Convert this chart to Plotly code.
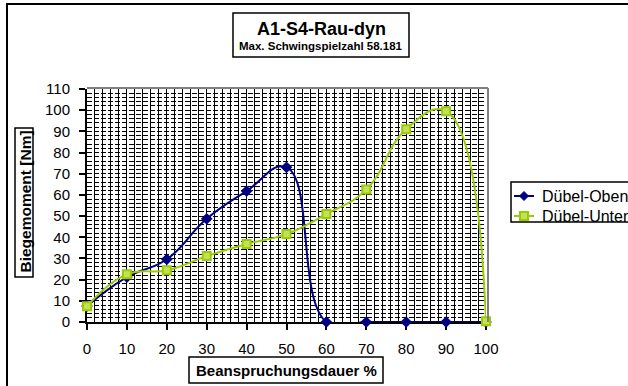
import plotly.graph_objects as go

# ---- data ----
x_pct = [0, 10, 20, 30, 40, 50, 60, 70, 80, 90, 100]
oben = [7.5, 21.2, 29.6, 48.7, 61.8, 73.0, 0, 0, 0, 0, 0]
unten = [7.4, 22.5, 24.4, 31.1, 36.8, 41.5, 51.0, 62.5, 91.0, 99.5, 0.3]
series_names = ["Dübel-Oben", "Dübel-Unten"]
series_colors = ["#000080", "#99CC00"]
title_main = "A1-S4-Rau-dyn"
title_sub = "Max. Schwingspielzahl 58.181"
x_title = "Beanspruchungsdauer %"
y_title = "Biegemoment [Nm]"

FONT = "Arial, Liberation Sans, sans-serif"

# plot area in pixels
L, R, T, B = 87, 486, 89, 322
W, H = R - L, B - T


def px(xp):
    return (xp - L) / W


def py(yp):
    return (B - yp) / H


fig = go.Figure()
fig.add_trace(go.Scatter(
    x=x_pct, y=oben, name=series_names[0], mode="lines+markers",
    line=dict(color=series_colors[0], width=2, shape="spline", smoothing=1.3),
    marker=dict(symbol="diamond", size=9, color=series_colors[0]),
    cliponaxis=False, showlegend=False,
))
fig.add_trace(go.Scatter(
    x=x_pct, y=unten, name=series_names[1], mode="lines+markers",
    line=dict(color=series_colors[1], width=2, shape="spline", smoothing=1.3),
    marker=dict(symbol="square", size=8, color="#C4E05A",
                line=dict(color=series_colors[1], width=2)),
    cliponaxis=False, showlegend=False,
))

shapes = [
    # outer chart border
    dict(type="rect", xref="paper", yref="paper", x0=px(7), x1=2, y0=-1, y1=py(4),
         line=dict(color="black", width=2), fillcolor="rgba(0,0,0,0)", layer="above"),
    # plot-area border (top & right, grey)
    dict(type="line", xref="paper", yref="paper", x0=0, x1=px(488), y0=py(88), y1=py(88),
         line=dict(color="#808080", width=2)),
    dict(type="line", xref="paper", yref="paper", x0=px(488), x1=px(488), y0=0, y1=py(88),
         line=dict(color="#808080", width=2)),
    # title box
    dict(type="rect", xref="paper", yref="paper", x0=px(233), x1=px(409), y0=py(57), y1=py(13),
         line=dict(color="black", width=1.5), fillcolor="white"),
    # y title box
    dict(type="rect", xref="paper", yref="paper", x0=px(15), x1=px(33), y0=py(277), y1=py(128),
         line=dict(color="black", width=1.5), fillcolor="white"),
    # x title box
    dict(type="rect", xref="paper", yref="paper", x0=px(189), x1=px(383), y0=py(383), y1=py(357),
         line=dict(color="black", width=1.5), fillcolor="white"),
    # legend box
    dict(type="rect", xref="paper", yref="paper", x0=px(511), x1=px(660), y0=py(222), y1=py(182),
         line=dict(color="black", width=1.5), fillcolor="white", layer="below"),
]

annotations = [
    dict(text="<b>" + title_main + "</b>", xref="paper", yref="paper",
         x=px(321), y=py(29), xanchor="center", yanchor="middle", showarrow=False,
         font=dict(family=FONT, size=18, color="black")),
    dict(text="<b>" + title_sub + "</b>", xref="paper", yref="paper",
         x=px(321), y=py(46), xanchor="center", yanchor="middle", showarrow=False,
         font=dict(family=FONT, size=11.5, color="black")),
    dict(text="<b>" + y_title + "</b>", xref="paper", yref="paper", textangle=-90,
         x=px(24.5), y=py(202), xanchor="center", yanchor="middle", showarrow=False,
         font=dict(family=FONT, size=15.5, color="black")),
    dict(text="<b>" + x_title + "</b>", xref="paper", yref="paper",
         x=px(286), y=py(370), xanchor="center", yanchor="middle", showarrow=False,
         font=dict(family=FONT, size=15, color="black")),
]

# legend drawn by hand (box cut by the chart edge as in the original)
leg_rows = [196, 216]
for i, (name, col) in enumerate(zip(series_names, series_colors)):
    yy = py(leg_rows[i])
    shapes.append(dict(type="line", xref="paper", yref="paper", x0=px(514), x1=px(534),
                       y0=yy, y1=yy, line=dict(color=col, width=2)))
    annotations.append(dict(text=name, xref="paper", yref="paper", x=px(540), y=yy,
                            xanchor="left", yanchor="middle", showarrow=False,
                            font=dict(family=FONT, size=16, color="black")))
# legend marker symbols
cx, cy = 524, leg_rows[0]
shapes.append(dict(type="path", xref="paper", yref="paper",
                   path=f"M {px(cx-4.5)} {py(cy)} L {px(cx)} {py(cy-4.5)} L {px(cx+4.5)} {py(cy)} L {px(cx)} {py(cy+4.5)} Z",
                   line=dict(color=series_colors[0], width=1), fillcolor=series_colors[0]))
cx, cy = 524, leg_rows[1]
shapes.append(dict(type="rect", xref="paper", yref="paper",
                   x0=px(cx-4), x1=px(cx+4), y0=py(cy+4), y1=py(cy-4),
                   line=dict(color=series_colors[1], width=2), fillcolor="#C4E05A"))

fig.update_layout(
    width=628, height=386,
    margin=dict(l=L, r=628 - R, t=T, b=386 - B, autoexpand=False),
    paper_bgcolor="white", plot_bgcolor="white",
    font=dict(family=FONT, size=15, color="black"),
    showlegend=False,
    shapes=shapes,
    annotations=annotations,
)

fig.update_xaxes(
    range=[0, 100], tickmode="linear", tick0=0, dtick=10,
    showline=True, linecolor="black", linewidth=2,
    ticks="outside", ticklen=6, tickwidth=2, tickcolor="black",
    ticklabelstandoff=6,
    showgrid=True, gridcolor="black", gridwidth=1,
    minor=dict(dtick=2, showgrid=True, gridcolor="black", gridwidth=1),
    zeroline=False, layer="below traces",
    tickfont=dict(family=FONT, size=15, color="black"),
)
fig.update_yaxes(
    range=[0, 110], tickmode="linear", tick0=0, dtick=10,
    showline=True, linecolor="black", linewidth=2,
    ticks="outside", ticklen=6, tickwidth=2, tickcolor="black",
    ticklabelstandoff=6,
    showgrid=True, gridcolor="black", gridwidth=1, griddash="5px,2px",
    minor=dict(dtick=2, showgrid=True, gridcolor="black", gridwidth=1, griddash="5px,2px"),
    zeroline=False, layer="below traces",
    tickfont=dict(family=FONT, size=15, color="black"),
)

fig.write_html("out.html", config={"displayModeBar": False},
               post_script="document.body.style.margin='0';document.body.style.overflow='hidden';")
